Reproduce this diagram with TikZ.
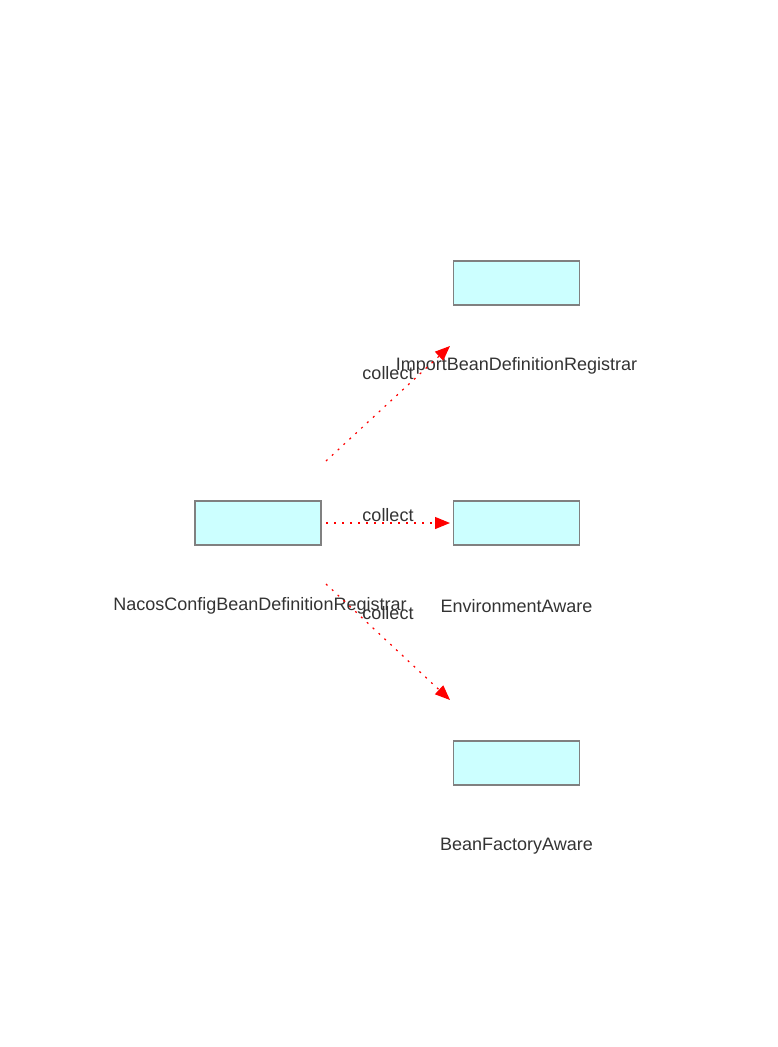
\documentclass[tikz,border=0pt]{standalone}
\usepackage{fontspec}
\setmainfont{Liberation Sans}
\usetikzlibrary{arrows.meta}
\definecolor{boxfill}{HTML}{CCFFFF}
\definecolor{boxline}{HTML}{808080}
\definecolor{txt}{HTML}{333333}
\begin{document}
\begin{tikzpicture}[x=1pt,y=-1pt,
  cls/.style={draw=boxline,fill=boxfill,line width=1.5pt,minimum width=126pt,minimum height=44pt,inner sep=0pt},
  lbl/.style={text=txt,font=\fontsize{18}{21}\selectfont,inner sep=0pt},
  rel/.style={draw=red,line width=1.2pt,dash pattern=on 2pt off 6pt,-{Triangle[length=15pt,width=12pt,fill=red]}},
  rellbl/.style={text=txt,font=\fontsize{18}{21}\selectfont,inner sep=0pt}]
\useasboundingbox (0,0) rectangle (777,1047);
\node[cls] (src) at (258,523) {};
\node[lbl] (srcl) at (260,606) {NacosConfigBeanDefinitionRegistrar};
\node[cls] (imp) at (516.5,283) {};
\node[lbl] (impl) at (516.5,366) {ImportBeanDefinitionRegistrar};
\node[cls] (env) at (516.5,523) {};
\node[lbl] (envl) at (516.5,606) {EnvironmentAware};
\node[cls] (bfa) at (516.5,763) {};
\node[lbl] (bfal) at (516.5,846) {BeanFactoryAware};
\coordinate (s1) at (326,461);
\coordinate (t1) at (450,346);
\coordinate (s2) at (326,523);
\coordinate (t2) at (450,523);
\coordinate (s3) at (326,584);
\coordinate (t3) at (450,700);
\draw[rel] (s1) -- (t1);
\draw[rel] (s2) -- (t2);
\draw[rel] (s3) -- (t3);
\node[rellbl] (c1) at (388,373) {collect};
\node[rellbl] (c2) at (388,515) {collect};
\node[rellbl] (c3) at (388,613) {collect};
\end{tikzpicture}
\end{document}
